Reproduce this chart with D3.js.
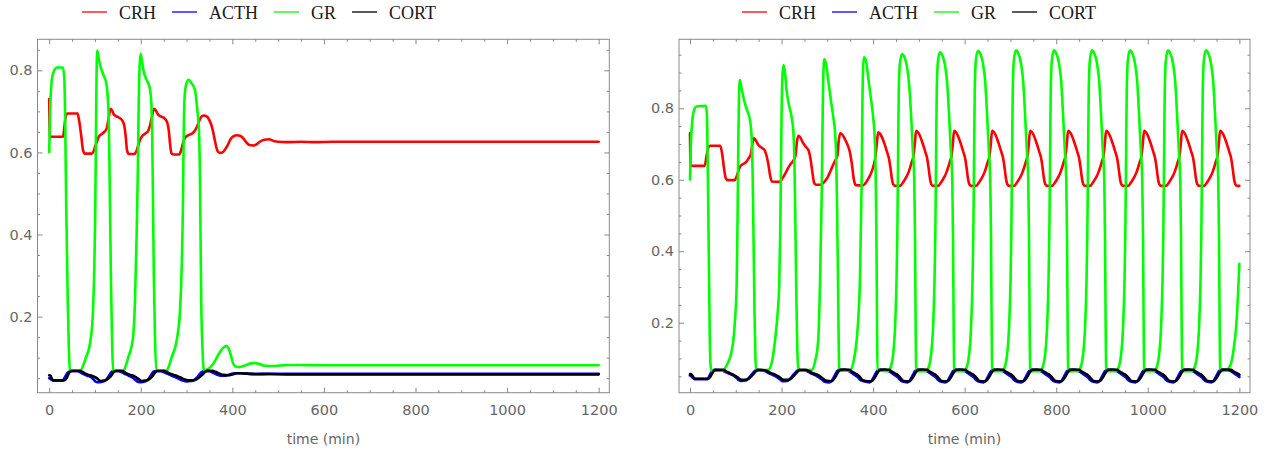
<!DOCTYPE html>
<html><head><meta charset="utf-8">
<script src="https://cdn.jsdelivr.net/npm/d3@7"></script>
<style>
body{margin:0;background:#fff;}
svg{display:block;}
</style></head>
<body>
<svg id="chart" width="1270" height="454"></svg>
<script>
const seriesNames = ["CRH","ACTH","GR","CORT"];
const seriesColors = ["#ff0000","#0000ff","#00ff00","#000000"];
const xMajorTicks = [0,200,400,600,800,1000,1200];
const yMajorTicks = [0.2,0.4,0.6,0.8];
const xLabel = "time (min)";

// ---------- Left panel (damped) ----------
const leftCRH = [[0,0.73],[1.2,0.64],[5,0.638],[30,0.638],[33,0.66],[36,0.688],[40,0.695],[62,0.695],[65,0.68],[70,0.64],[74,0.605],[78,0.597],[93,0.597],[97,0.603],[101,0.617],[104,0.625],[108,0.638],[115,0.645],[122,0.652],[126,0.66],[130,0.685],[134,0.706],[137,0.703],[141,0.693],[147,0.688],[155,0.683],[160,0.677],[164,0.665],[167,0.64],[170,0.605],[174,0.596],[186,0.596],[190,0.602],[194,0.615],[198,0.63],[203,0.64],[210,0.646],[216,0.652],[220,0.665],[225,0.69],[229,0.706],[233,0.702],[238,0.692],[245,0.687],[253,0.682],[258,0.672],[261,0.655],[264,0.62],[267,0.598],[271,0.595],[284,0.595],[288,0.605],[292,0.622],[297,0.636],[304,0.642],[312,0.646],[318,0.653],[323,0.663],[328,0.678],[333,0.688],[338,0.69],[344,0.688],[350,0.678],[356,0.66],[362,0.628],[367,0.605],[372,0.599],[378,0.600],[384,0.607],[390,0.618],[396,0.632],[402,0.639],[410,0.642],[418,0.64],[424,0.634],[430,0.625],[437,0.618],[445,0.617],[452,0.619],[460,0.626],[470,0.631],[480,0.632],[490,0.628],[500,0.626],[520,0.625],[550,0.626],[580,0.625],[620,0.626],[700,0.626],[1200,0.626]];
const leftACTH = [[0,0.05],[4,0.047],[8,0.044],[30,0.044],[33,0.05],[37,0.058],[41,0.064],[45,0.067],[62,0.067],[68,0.064],[75,0.06],[83,0.056],[90,0.053],[96,0.048],[101,0.042],[106,0.04],[114,0.041],[120,0.043],[125,0.047],[130,0.055],[134,0.062],[138,0.067],[152,0.067],[159,0.064],[166,0.06],[174,0.056],[181,0.052],[187,0.047],[192,0.042],[197,0.04],[205,0.041],[211,0.043],[216,0.047],[221,0.055],[225,0.062],[229,0.067],[244,0.067],[252,0.064],[260,0.06],[268,0.056],[276,0.052],[284,0.048],[292,0.044],[300,0.042],[310,0.043],[317,0.046],[323,0.052],[328,0.059],[333,0.065],[337,0.067],[350,0.067],[358,0.063],[366,0.059],[374,0.056],[384,0.056],[394,0.059],[404,0.062],[416,0.062],[430,0.061],[450,0.0605],[1200,0.0605]];
const leftGR = [[0,0.601],[2.4,0.714],[6,0.779],[11,0.80],[17,0.807],[30,0.807],[33,0.78],[35,0.67],[37,0.48],[40.5,0.24],[43,0.12],[45.5,0.07],[48,0.068],[67.5,0.068],[74,0.08],[80.4,0.101],[89,0.134],[95,0.199],[98.5,0.321],[100.5,0.45],[102,0.63],[103.3,0.78],[105,0.848],[108,0.83],[111.7,0.811],[119,0.787],[125,0.767],[127.7,0.738],[130,0.68],[131.5,0.58],[133,0.45],[135,0.28],[137.5,0.13],[140,0.07],[143,0.068],[162,0.068],[167,0.08],[172.8,0.101],[182.3,0.142],[187.4,0.24],[191,0.40],[193.5,0.55],[195.5,0.72],[197.5,0.81],[199.8,0.84],[203,0.82],[206,0.799],[213.6,0.775],[219.4,0.758],[223,0.722],[225,0.632],[226.5,0.5],[228.5,0.3],[231,0.15],[234.7,0.069],[238,0.068],[256.6,0.068],[261,0.078],[267.5,0.101],[278.4,0.142],[285.7,0.215],[289.4,0.321],[292.2,0.484],[293.8,0.65],[296,0.74],[299,0.765],[304.6,0.777],[310,0.77],[318.4,0.752],[323.5,0.703],[327,0.654],[329.3,0.532],[330.5,0.4],[332,0.24],[334.5,0.13],[338,0.069],[347.5,0.073],[358.4,0.085],[373,0.114],[382,0.126],[387.6,0.128],[392,0.122],[397,0.105],[402,0.085],[408,0.078],[415,0.077],[427.6,0.081],[440,0.086],[449.5,0.087],[458,0.085],[467.6,0.081],[489.4,0.0795],[518.6,0.082],[547,0.082],[600,0.0815],[1200,0.0815]];
const leftCORT = [[0,0.057],[3,0.056],[6,0.048],[10,0.045],[34,0.045],[38,0.05],[42,0.06],[46,0.066],[50,0.068],[67,0.068],[73,0.065],[79,0.061],[86,0.058],[93,0.056],[99,0.053],[104,0.05],[108,0.046],[112,0.043],[118,0.044],[123,0.045],[128,0.048],[133,0.053],[138,0.06],[142,0.066],[146,0.068],[158,0.068],[164,0.065],[170,0.061],[177,0.058],[184,0.056],[190,0.052],[196,0.047],[202,0.043],[208,0.044],[214,0.045],[219,0.048],[224,0.053],[229,0.06],[233,0.066],[237,0.068],[250,0.068],[257,0.065],[264,0.061],[272,0.058],[280,0.055],[288,0.051],[296,0.047],[304,0.045],[314,0.045],[322,0.047],[328,0.052],[334,0.058],[339,0.064],[344,0.068],[356,0.068],[364,0.065],[372,0.061],[380,0.058],[390,0.057],[400,0.059],[410,0.062],[420,0.062],[432,0.061],[450,0.0595],[480,0.06],[520,0.0593],[1200,0.0593]];

// ---------- Right panel (sustained oscillation) ----------
const rightCRH = [[0,0.73],[1.2,0.639],[32,0.639],[36,0.665],[40,0.69],[44,0.695],[66,0.695],[70,0.675],[74,0.635],[78,0.605],[82,0.599],[97,0.599],[101,0.606],[105,0.622],[109,0.636],[116,0.644],[123,0.65],[128,0.66],[133,0.672],[137,0.705],[140,0.716],[144,0.71],[149,0.698],[156,0.69],[163,0.683],[167,0.668],[171,0.645],[175,0.612],[179,0.595],[196,0.594],[200,0.6],[204,0.608],[210,0.622],[218,0.641],[225,0.652],[230,0.665],[234,0.71],[237,0.723],[241,0.718],[247,0.703],[253,0.692],[259,0.682],[263,0.66],[267,0.625],[271,0.592],[275,0.586],[286,0.586],[292,0.592],[300,0.605],[306,0.622],[312,0.64],[318,0.656],[322,0.668],[325,0.71],[328,0.73],[333,0.726],[339,0.712],[345,0.695],[350,0.673],[354,0.64],[358,0.6],[362,0.585],[378,0.584],[383,0.59],[388,0.6],[392,0.609],[396,0.62],[400,0.635],[403,0.65],[405,0.664],[408,0.7],[411,0.733],
[415,0.729],[419,0.72],[423,0.707],[427,0.692],[431,0.675],[435,0.657],[438,0.632],[441,0.603],[444,0.587],[448,0.583],[459,0.583],[464,0.59],[469,0.6],[473,0.609],[477,0.62],[481,0.635],[485,0.652],[488,0.665],[491,0.7],[494,0.737],
[498,0.733],[502,0.724],[506,0.71],[510,0.695],[514,0.678],[518,0.66],[521,0.635],[524,0.605],[527,0.588],[531,0.583],[542,0.583],[547,0.59],[552,0.6],[556,0.609],[560,0.62],[564,0.635],[568,0.652],[571,0.665],[574,0.7],[577,0.737],
[581,0.733],[585,0.724],[589,0.71],[593,0.695],[597,0.678],[601,0.66],[604,0.635],[607,0.605],[610,0.588],[614,0.583],[625,0.583],[630,0.59],[635,0.6],[639,0.609],[643,0.62],[647,0.635],[651,0.652],[654,0.665],[657,0.7],[660,0.737],
[664,0.733],[668,0.724],[672,0.71],[676,0.695],[680,0.678],[684,0.66],[687,0.635],[690,0.605],[693,0.588],[697,0.583],[708,0.583],[713,0.59],[718,0.6],[722,0.609],[726,0.62],[730,0.635],[734,0.652],[737,0.665],[740,0.7],[743,0.737],
[747,0.733],[751,0.724],[755,0.71],[759,0.695],[763,0.678],[767,0.66],[770,0.635],[773,0.605],[776,0.588],[780,0.583],[791,0.583],[796,0.59],[801,0.6],[805,0.609],[809,0.62],[813,0.635],[817,0.652],[820,0.665],[823,0.7],[826,0.737],
[830,0.733],[834,0.724],[838,0.71],[842,0.695],[846,0.678],[850,0.66],[853,0.635],[856,0.605],[859,0.588],[863,0.583],[874,0.583],[879,0.59],[884,0.6],[888,0.609],[892,0.62],[896,0.635],[900,0.652],[903,0.665],[906,0.7],[909,0.737],
[913,0.733],[917,0.724],[921,0.71],[925,0.695],[929,0.678],[933,0.66],[936,0.635],[939,0.605],[942,0.588],[946,0.583],[957,0.583],[962,0.59],[967,0.6],[971,0.609],[975,0.62],[979,0.635],[983,0.652],[986,0.665],[989,0.7],[992,0.737],
[996,0.733],[1000,0.724],[1004,0.71],[1008,0.695],[1012,0.678],[1016,0.66],[1019,0.635],[1022,0.605],[1025,0.588],[1029,0.583],[1040,0.583],[1045,0.59],[1050,0.6],[1054,0.609],[1058,0.62],[1062,0.635],[1066,0.652],[1069,0.665],[1072,0.7],[1075,0.737],
[1079,0.733],[1083,0.724],[1087,0.71],[1091,0.695],[1095,0.678],[1099,0.66],[1102,0.635],[1105,0.605],[1108,0.588],[1112,0.583],[1123,0.583],[1128,0.59],[1133,0.6],[1137,0.609],[1141,0.62],[1145,0.635],[1149,0.652],[1152,0.665],[1155,0.7],[1158,0.737],
[1162,0.733],[1166,0.724],[1170,0.71],[1174,0.695],[1178,0.678],[1182,0.66],[1185,0.635],[1188,0.605],[1191,0.588],[1195,0.583],[1200,0.583]];
const rightACTH = [[0,0.052],[3,0.05],[6,0.046],[10,0.042],[38,0.042],[42,0.05],[46,0.06],[50,0.066],[54,0.068],[70,0.067],[76,0.063],[83,0.059],[90,0.055],[97,0.05],[102,0.045],[107,0.039],[112,0.037],[121,0.038],[126,0.042],[131,0.049],[136,0.057],[141,0.064],[145,0.068],[160,0.067],[166,0.063],[173,0.058],[180,0.054],[187,0.05],[193,0.045],[198,0.04],[202,0.036],[212,0.037],[217,0.041],[222,0.048],[227,0.056],[232,0.063],[236,0.067],[250,0.067],[256,0.064],[263,0.059],[270,0.055],[278,0.05],[284,0.045],[289,0.04],[294,0.035],
[305,0.033],[310,0.038],[314,0.047],[318,0.057],[322,0.065],[325,0.068],[335,0.068],[345,0.066],[350,0.062],[356,0.057],[362,0.052],[367,0.047],[371,0.041],
[380,0.036],[392,0.033],[397,0.038],[401,0.047],[405,0.057],[409,0.065],[412,0.068],[422,0.068],[432,0.066],[437,0.062],[443,0.057],[449,0.052],[454,0.047],[458,0.041],
[463,0.036],[475,0.033],[480,0.038],[484,0.047],[488,0.057],[492,0.065],[495,0.068],[505,0.068],[515,0.066],[520,0.062],[526,0.057],[532,0.052],[537,0.047],[541,0.041],
[546,0.036],[558,0.033],[563,0.038],[567,0.047],[571,0.057],[575,0.065],[578,0.068],[588,0.068],[598,0.066],[603,0.062],[609,0.057],[615,0.052],[620,0.047],[624,0.041],
[629,0.036],[641,0.033],[646,0.038],[650,0.047],[654,0.057],[658,0.065],[661,0.068],[671,0.068],[681,0.066],[686,0.062],[692,0.057],[698,0.052],[703,0.047],[707,0.041],
[712,0.036],[724,0.033],[729,0.038],[733,0.047],[737,0.057],[741,0.065],[744,0.068],[754,0.068],[764,0.066],[769,0.062],[775,0.057],[781,0.052],[786,0.047],[790,0.041],
[795,0.036],[807,0.033],[812,0.038],[816,0.047],[820,0.057],[824,0.065],[827,0.068],[837,0.068],[847,0.066],[852,0.062],[858,0.057],[864,0.052],[869,0.047],[873,0.041],
[878,0.036],[890,0.033],[895,0.038],[899,0.047],[903,0.057],[907,0.065],[910,0.068],[920,0.068],[930,0.066],[935,0.062],[941,0.057],[947,0.052],[952,0.047],[956,0.041],
[961,0.036],[973,0.033],[978,0.038],[982,0.047],[986,0.057],[990,0.065],[993,0.068],[1003,0.068],[1013,0.066],[1018,0.062],[1024,0.057],[1030,0.052],[1035,0.047],[1039,0.041],
[1044,0.036],[1056,0.033],[1061,0.038],[1065,0.047],[1069,0.057],[1073,0.065],[1076,0.068],[1086,0.068],[1096,0.066],[1101,0.062],[1107,0.057],[1113,0.052],[1118,0.047],[1122,0.041],
[1127,0.036],[1139,0.033],[1144,0.038],[1148,0.047],[1152,0.057],[1156,0.065],[1159,0.068],[1169,0.068],[1179,0.066],[1184,0.062],[1190,0.057],[1196,0.052],[1200,0.048]];
const rightGR = [[0,0.601],[2,0.70],[5,0.765],[9,0.795],[14,0.805],[35,0.807],[37,0.78],[39,0.62],[41,0.40],[43,0.18],[45,0.08],[47,0.066],[72,0.066],
[80,0.08],[88,0.105],[94.6,0.15],[99,0.22],[102,0.31],[104,0.5],[105.5,0.7],[107,0.83],[109,0.879],[112,0.86],[116,0.835],[120,0.814],[126,0.79],[131,0.767],[134.7,0.72],[137,0.6],[139,0.42],[141,0.22],[143,0.1],[145,0.066],
[171,0.068],[178,0.085],[185.7,0.15],[191,0.22],[195,0.31],[197,0.45],[198.5,0.6],[200,0.78],[202,0.89],[204,0.921],[207,0.905],[211,0.851],[216,0.81],[222,0.776],[226,0.73],[228,0.66],[230,0.5],[232,0.3],[234,0.15],[236,0.08],[239,0.066],
[266,0.068],[273,0.09],[280,0.15],[284,0.31],[287.6,0.55],[289.5,0.75],[291,0.88],[293.4,0.937],[297,0.925],[302,0.879],[308,0.82],[313,0.776],[317,0.73],[319,0.68],[321,0.55],[323,0.35],[324.5,0.18],[326,0.066],
[349.5,0.066],[357,0.09],[364,0.15],[368,0.22],[371,0.31],[373,0.45],[375,0.6],[376.5,0.8],[378,0.91],[380,0.943],[384,0.935],[390,0.879],[395,0.83],[400,0.776],[404,0.7],[406,0.58],[407.5,0.4],[408.5,0.2],[409.5,0.066],
[433,0.064],[436,0.068],[443,0.104],[448,0.19],[451,0.31],[453,0.46],[454.5,0.66],[456,0.85],[458.5,0.925],[463,0.952],[468,0.944],[474,0.916],[479,0.862],[483,0.78],[486.5,0.69],[490,0.59],[491.5,0.44],[493,0.18],[494,0.075],[496,0.064],
[516,0.064],[519,0.068],[526,0.104],[531,0.19],[534,0.31],[536,0.46],[537.5,0.66],[539,0.85],[541.5,0.93],[546,0.957],[551,0.949],[557,0.921],[562,0.867],[566,0.78],[569.5,0.69],[573,0.59],[574.5,0.44],[576,0.18],[577,0.075],[579,0.064],
[599,0.064],[602,0.068],[609,0.104],[614,0.19],[617,0.31],[619,0.46],[620.5,0.66],[622,0.85],[624.5,0.935],[629,0.961],[634,0.953],[640,0.925],[645,0.871],[649,0.78],[652.5,0.69],[656,0.59],[657.5,0.44],[659,0.18],[660,0.075],[662,0.064],
[682,0.064],[685,0.068],[692,0.104],[697,0.19],[700,0.31],[702,0.46],[703.5,0.66],[705,0.85],[707.5,0.935],[712,0.962],[717,0.954],[723,0.926],[728,0.872],[732,0.78],[735.5,0.69],[739,0.59],[740.5,0.44],[742,0.18],[743,0.075],[745,0.064],
[765,0.064],[768,0.068],[775,0.104],[780,0.19],[783,0.31],[785,0.46],[786.5,0.66],[788,0.85],[790.5,0.935],[795,0.962],[800,0.954],[806,0.926],[811,0.872],[815,0.78],[818.5,0.69],[822,0.59],[823.5,0.44],[825,0.18],[826,0.075],[828,0.064],
[848,0.064],[851,0.068],[858,0.104],[863,0.19],[866,0.31],[868,0.46],[869.5,0.66],[871,0.85],[873.5,0.935],[878,0.962],[883,0.954],[889,0.926],[894,0.872],[898,0.78],[901.5,0.69],[905,0.59],[906.5,0.44],[908,0.18],[909,0.075],[911,0.064],
[931,0.064],[934,0.068],[941,0.104],[946,0.19],[949,0.31],[951,0.46],[952.5,0.66],[954,0.85],[956.5,0.935],[961,0.962],[966,0.954],[972,0.926],[977,0.872],[981,0.78],[984.5,0.69],[988,0.59],[989.5,0.44],[991,0.18],[992,0.075],[994,0.064],
[1014,0.064],[1017,0.068],[1024,0.104],[1029,0.19],[1032,0.31],[1034,0.46],[1035.5,0.66],[1037,0.85],[1039.5,0.935],[1044,0.962],[1049,0.954],[1055,0.926],[1060,0.872],[1064,0.78],[1067.5,0.69],[1071,0.59],[1072.5,0.44],[1074,0.18],[1075,0.075],[1077,0.064],
[1097,0.064],[1100,0.068],[1107,0.104],[1112,0.19],[1115,0.31],[1117,0.46],[1118.5,0.66],[1120,0.85],[1122.5,0.935],[1127,0.962],[1132,0.954],[1138,0.926],[1143,0.872],[1147,0.78],[1150.5,0.69],[1154,0.59],[1155.5,0.44],[1157,0.18],[1158,0.075],[1160,0.064],
[1170,0.066],[1180,0.08],[1187,0.122],[1193,0.19],[1196.5,0.265],[1200,0.365]];
const rightCORT = [[0,0.056],[2,0.056],[5,0.052],[9,0.045],[12,0.043],[40,0.043],[44,0.048],[48,0.057],[52,0.065],[56,0.068],[73,0.068],[79,0.064],[85,0.06],[92,0.056],[99,0.051],[104,0.047],[109,0.042],[114,0.04],[124,0.041],[129,0.044],[134,0.05],[139,0.057],[144,0.064],[149,0.068],[163,0.067],[169,0.064],[175,0.06],[181,0.057],[188,0.053],[194,0.049],[199,0.044],[204,0.04],[215,0.04],[220,0.043],[225,0.049],[230,0.056],[235,0.063],[239,0.068],[253,0.068],[259,0.065],[265,0.061],[272,0.057],[280,0.053],[286,0.048],[291,0.043],[296,0.038],
[309,0.036],[313,0.04],[317,0.047],[321,0.056],[325,0.064],[328,0.068],[338,0.069],[348,0.068],[353,0.064],[358,0.06],[364,0.056],[369,0.051],[373,0.045],[377,0.039],
[383,0.037],[396,0.036],[400,0.04],[404,0.047],[408,0.056],[412,0.064],[415,0.068],[425,0.069],[435,0.068],[440,0.064],[445,0.06],[451,0.056],[456,0.051],[460,0.045],[464,0.039],
[466,0.037],[479,0.036],[483,0.04],[487,0.047],[491,0.056],[495,0.064],[498,0.068],[508,0.069],[518,0.068],[523,0.064],[528,0.06],[534,0.056],[539,0.051],[543,0.045],[547,0.039],
[549,0.037],[562,0.036],[566,0.04],[570,0.047],[574,0.056],[578,0.064],[581,0.068],[591,0.069],[601,0.068],[606,0.064],[611,0.06],[617,0.056],[622,0.051],[626,0.045],[630,0.039],
[632,0.037],[645,0.036],[649,0.04],[653,0.047],[657,0.056],[661,0.064],[664,0.068],[674,0.069],[684,0.068],[689,0.064],[694,0.06],[700,0.056],[705,0.051],[709,0.045],[713,0.039],
[715,0.037],[728,0.036],[732,0.04],[736,0.047],[740,0.056],[744,0.064],[747,0.068],[757,0.069],[767,0.068],[772,0.064],[777,0.06],[783,0.056],[788,0.051],[792,0.045],[796,0.039],
[798,0.037],[811,0.036],[815,0.04],[819,0.047],[823,0.056],[827,0.064],[830,0.068],[840,0.069],[850,0.068],[855,0.064],[860,0.06],[866,0.056],[871,0.051],[875,0.045],[879,0.039],
[881,0.037],[894,0.036],[898,0.04],[902,0.047],[906,0.056],[910,0.064],[913,0.068],[923,0.069],[933,0.068],[938,0.064],[943,0.06],[949,0.056],[954,0.051],[958,0.045],[962,0.039],
[964,0.037],[977,0.036],[981,0.04],[985,0.047],[989,0.056],[993,0.064],[996,0.068],[1006,0.069],[1016,0.068],[1021,0.064],[1026,0.06],[1032,0.056],[1037,0.051],[1041,0.045],[1045,0.039],
[1047,0.037],[1060,0.036],[1064,0.04],[1068,0.047],[1072,0.056],[1076,0.064],[1079,0.068],[1089,0.069],[1099,0.068],[1104,0.064],[1109,0.06],[1115,0.056],[1120,0.051],[1124,0.045],[1128,0.039],
[1130,0.037],[1143,0.036],[1147,0.04],[1151,0.047],[1155,0.056],[1159,0.064],[1162,0.068],[1172,0.069],[1182,0.068],[1187,0.064],[1192,0.06],[1198,0.056],[1200,0.054]];

const panels = [
  {frame:{x0:37.5,x1:609.3,y0:39.3,y1:392.7}, xDom:[-25.55,1223.2], yDom:[0.0146,0.8756],
   yMinor:[0.05,0.1,0.15,0.25,0.3,0.35,0.45,0.5,0.55,0.65,0.7,0.75,0.85],
   data:[leftCRH,leftACTH,leftGR,leftCORT], legendX:82},
  {frame:{x0:679,x1:1250,y0:39.3,y1:392.7}, xDom:[-24.0,1223.2], yDom:[0.0041,0.9931],
   yMinor:[0.05,0.1,0.15,0.25,0.3,0.35,0.45,0.5,0.55,0.65,0.7,0.75,0.85,0.9,0.95],
   data:[rightCRH,rightACTH,rightGR,rightCORT], legendX:742}
];
const xMinor = d3.range(50,1200,50).filter(v => v % 200 !== 0);

const svg = d3.select("#chart");
const tickColor = "#8a8a8a";
const labelFont = "'DejaVu Sans', sans-serif";

panels.forEach(p => {
  const f = p.frame;
  const x = d3.scaleLinear().domain(p.xDom).range([f.x0, f.x1]);
  const y = d3.scaleLinear().domain(p.yDom).range([f.y1, f.y0]);
  const g = svg.append("g");

  const clipId = "clip" + Math.round(f.x0);
  svg.append("clipPath").attr("id", clipId).append("rect")
    .attr("x", f.x0).attr("y", f.y0).attr("width", f.x1 - f.x0).attr("height", f.y1 - f.y0);

  const line = d3.line().x(d => x(d[0])).y(d => y(d[1])).curve(d3.curveMonotoneX);
  const lg = g.append("g").attr("clip-path", `url(#${clipId})`);
  p.data.forEach((s, i) => {
    lg.append("path").attr("d", line(s)).attr("fill","none")
      .attr("stroke", seriesColors[i]).attr("stroke-width", 2.6)
      .attr("stroke-linejoin","round").attr("stroke-linecap","round");
  });

  function styleAxis(sel){
    sel.select(".domain").remove();
    sel.selectAll(".tick line").attr("stroke", tickColor).attr("stroke-width",1);
    sel.selectAll(".tick text").attr("fill","#666").style("font-family",labelFont).style("font-size","14.5px");
  }
  // bottom
  g.append("g").attr("transform",`translate(0,${f.y1})`)
    .call(d3.axisBottom(x).tickValues(xMajorTicks).tickSize(-5).tickPadding(12).tickFormat(d3.format("d"))).call(styleAxis);
  g.append("g").attr("transform",`translate(0,${f.y1})`)
    .call(d3.axisBottom(x).tickValues(xMinor).tickSize(-2.5).tickFormat("")).call(styleAxis);
  // top
  g.append("g").attr("transform",`translate(0,${f.y0})`)
    .call(d3.axisTop(x).tickValues(xMajorTicks).tickSize(-5).tickFormat("")).call(styleAxis);
  g.append("g").attr("transform",`translate(0,${f.y0})`)
    .call(d3.axisTop(x).tickValues(xMinor).tickSize(-2.5).tickFormat("")).call(styleAxis);
  // left
  g.append("g").attr("transform",`translate(${f.x0},0)`)
    .call(d3.axisLeft(y).tickValues(yMajorTicks).tickSize(-5).tickPadding(5).tickFormat(d3.format(".1f"))).call(styleAxis);
  g.append("g").attr("transform",`translate(${f.x0},0)`)
    .call(d3.axisLeft(y).tickValues(p.yMinor).tickSize(-2.5).tickFormat("")).call(styleAxis);
  // right
  g.append("g").attr("transform",`translate(${f.x1},0)`)
    .call(d3.axisRight(y).tickValues(yMajorTicks).tickSize(-5).tickFormat("")).call(styleAxis);
  g.append("g").attr("transform",`translate(${f.x1},0)`)
    .call(d3.axisRight(y).tickValues(p.yMinor).tickSize(-2.5).tickFormat("")).call(styleAxis);

  g.append("rect").attr("x",f.x0).attr("y",f.y0).attr("width",f.x1-f.x0).attr("height",f.y1-f.y0)
    .attr("fill","none").attr("stroke",tickColor).attr("stroke-width",1);

  g.append("text").attr("x",(f.x0+f.x1)/2).attr("y",444).attr("text-anchor","middle")
    .attr("fill","#666").style("font-family",labelFont).style("font-size","14px").text(xLabel);

  // legend
  const leg = g.append("g").attr("transform",`translate(${p.legendX},12)`);
  let cx = 0;
  seriesNames.forEach((n,i) => {
    leg.append("line").attr("x1",cx).attr("x2",cx+25).attr("y1",0).attr("y2",0)
      .attr("stroke",seriesColors[i]).attr("stroke-width",1.3);
    const t = leg.append("text").attr("x",cx+37).attr("y",6.5)
      .style("font-family","'Liberation Serif', serif").style("font-size","18px").attr("fill","#1a1a1a").text(n);
    cx += 37 + t.node().getComputedTextLength() + 16;
  });
});
</script>
</body></html>
